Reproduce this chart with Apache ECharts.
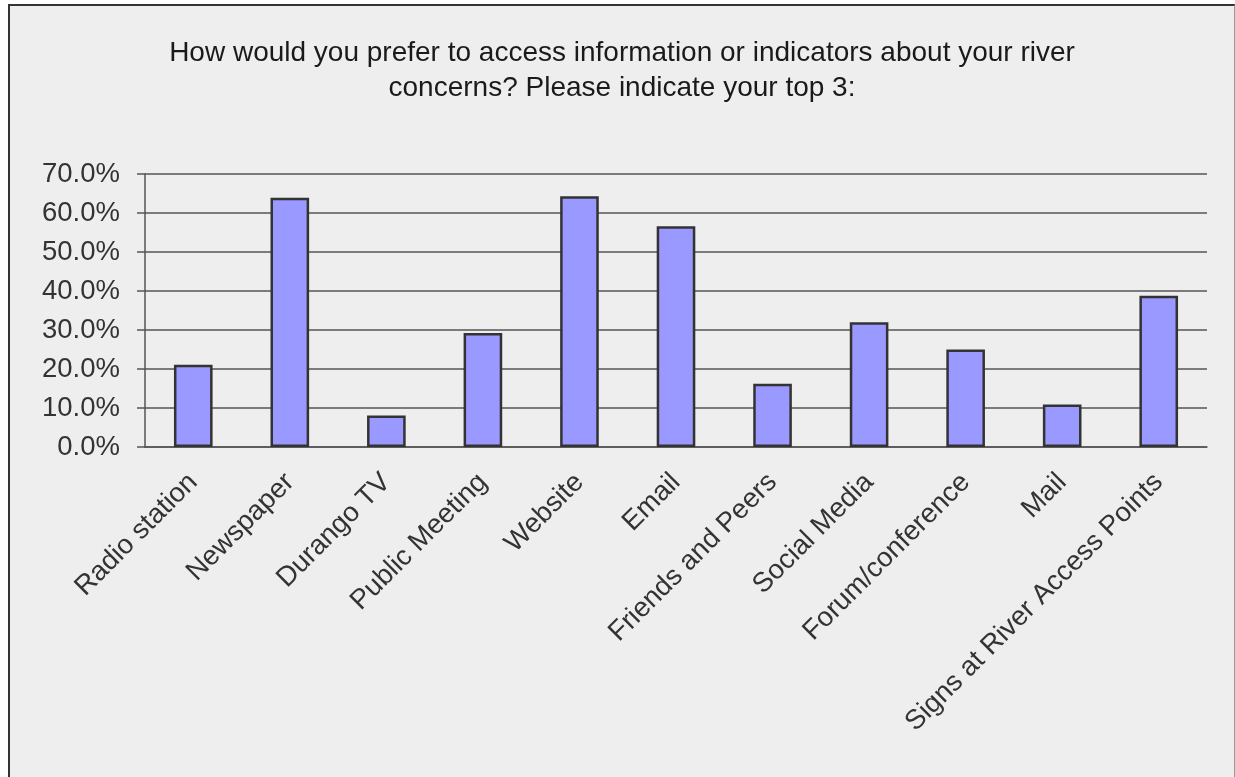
<!DOCTYPE html>
<html>
<head>
<meta charset="utf-8">
<script src="https://cdn.jsdelivr.net/npm/echarts@6/dist/echarts.min.js"></script>
<style>
  html, body { margin: 0; padding: 0; background: #ffffff; }
  #frame {
    position: absolute; left: 8px; top: 4px; width: 1224px; height: 773px;
    border-left: 2px solid #333; border-top: 2px solid #333; border-right: 1px solid #999;
    background: #eeeeee;
  }
  #chart { width: 1224px; height: 773px; }
</style>
</head>
<body>
<div id="frame"><div id="chart"></div></div>
<script>
const categories = [
  'Radio station', 'Newspaper', 'Durango TV', 'Public Meeting', 'Website', 'Email',
  'Friends and Peers', 'Social Media', 'Forum/conference', 'Mail', 'Signs at River Access Points'
];
const shares = [21.1, 63.9, 8.1, 29.2, 64.3, 56.6, 16.2, 32.0, 25.0, 10.9, 38.8];

const chart = echarts.init(document.getElementById('chart'));

const font = 'Liberation Sans, Arial, sans-serif';

chart.setOption({
  backgroundColor: '#eeeeee',
  animation: false,
  title: {
    text: 'How would you prefer to access information or indicators about your river\nconcerns? Please indicate your top 3:',
    left: 'center',
    top: 25,
    textStyle: {
      fontFamily: font,
      fontSize: 28,
      fontWeight: 'normal',
      color: '#1a1a1a',
      lineHeight: 35
    }
  },
  grid: { left: 135, right: 27, top: 168, bottom: 332 },
  xAxis: {
    type: 'category',
    data: categories,
    axisLine: { lineStyle: { color: '#555', width: 1.5 } },
    axisTick: { length: 9, lineStyle: { color: '#555', width: 1.5 } },
    axisLabel: {
      rotate: 45,
      interval: 0,
      margin: 31,
      fontFamily: font,
      fontSize: 27.5,
      color: '#333'
    }
  },
  yAxis: {
    type: 'value',
    min: 0,
    max: 70,
    interval: 10,
    axisLine: { show: true, lineStyle: { color: '#555', width: 1.5 } },
    axisTick: { show: true, length: 8, lineStyle: { color: '#555', width: 1.5 } },
    splitLine: { lineStyle: { color: '#555', width: 1.5 } },
    axisLabel: {
      formatter: (v) => v.toFixed(1) + '%',
      margin: 25,
      fontFamily: font,
      fontSize: 27.5,
      color: '#333'
    }
  },
  series: [
    {
      type: 'bar',
      data: shares,
      barWidth: '40%',
      itemStyle: { color: '#9999ff', borderColor: '#333', borderWidth: 2.5 }
    }
  ]
});
</script>
</body>
</html>
